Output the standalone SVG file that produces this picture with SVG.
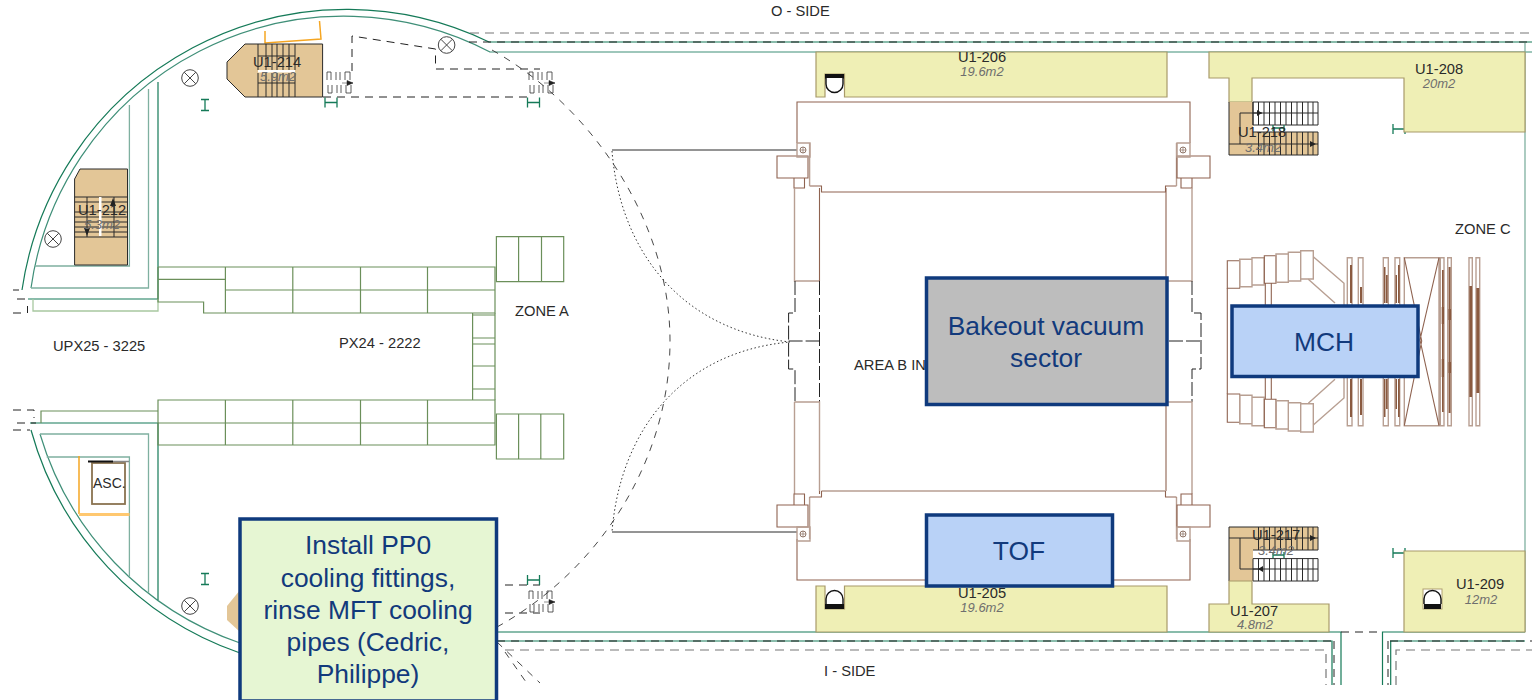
<svg xmlns="http://www.w3.org/2000/svg" width="1532" height="700" viewBox="0 0 1532 700">
<style>
text{font-family:"Liberation Sans",Arial,sans-serif;fill:#2a2a2a}
.lb{font-size:14.700px}
.ar{font-size:13px;font-style:italic;fill:#6e6e6e;text-anchor:middle}
.bx{font-size:26.400px;fill:#123a7c;text-anchor:middle}
.box{stroke:#0f3a7d;stroke-width:3.500}
.wd{fill:none;stroke:#157a58;stroke-width:1.200}
.wl{fill:none;stroke:#7fb0a0;stroke-width:1.300}
.wm{fill:none;stroke:#3f8f78;stroke-width:1.200}
.wp{fill:none;stroke:#a8c8a0;stroke-width:1.300}
.blk{fill:none;stroke:#6b8f5a;stroke-width:1.200}
.br{fill:none;stroke:#8f6350;stroke-width:1.100}
.brl{fill:none;stroke:#b89f92;stroke-width:1.400}
.yel{fill:#efefb5;stroke:#a89a6a;stroke-width:1.200}
.tan{fill:#e3c697}
.tk{fill:none;stroke:#2a2a2a;stroke-width:1}
.ds{fill:none;stroke:#222;stroke-width:1;stroke-dasharray:8 6}
.dc{fill:none;stroke:#222;stroke-width:1;stroke-dasharray:14 3}
.dg{fill:none;stroke:#777;stroke-width:1.200;stroke-dasharray:9 6}
.dn{fill:none;stroke:#333;stroke-width:.9;stroke-dasharray:7 7}
.dt{fill:none;stroke:#333;stroke-width:1;stroke-dasharray:1.500 2.500}
.gm{fill:none;stroke:#157a58;stroke-width:1.300}
.dk{fill:#8a5a40}
.xc{fill:#fff;stroke:#444;stroke-width:1}
.xl{fill:none;stroke:#444;stroke-width:1}
.dr{fill:none;stroke:#333;stroke-width:.8}
</style>
<defs>
<g id="xcirc"><circle class="xc" r="8.300"/><path class="xl" d="M-5.800-5.800L5.800 5.800M-5.800 5.800L5.800-5.800"/></g>
<g id="door"><path class="dr" d="M1 9V1H5V9M10 9V1M14 9V1M19 9V1H24V9M2 14V22H6V14M11 14V22M15 22V14M20 14V22H25V14"/><path d="M16 12H27M27 12l-6-2.500v5z" fill="#222" stroke="#222" stroke-width=".5"/></g>
<g id="ibeam"><path class="gm" d="M-4-5.500H4M-4 5.500H4M0-5.500V5.500"/></g>
<g id="hbeam"><path class="gm" d="M0-5V5M12-5V5M0 0H12"/></g>
<g id="xbox"><path class="brl" d="M0 0H13V14H0z"/><circle cx="6" cy="7" r="3" fill="none" stroke="#7a5a4a" stroke-width=".8"/><path d="M3 7H9M6 4V10" stroke="#7a5a4a" stroke-width=".6"/></g>
</defs>

<g id="walls">
<path class="wd" d="M22 290A328 328 0 0 1 489 42H1532"/>
<path class="wm" d="M31 288A316 316 0 0 1 490 52H1532"/>
<path class="wd" d="M31 430A328 328 0 0 0 240 653"/>
<path class="wm" d="M40 434A316 316 0 0 0 240 643"/>
<path class="wd" d="M158 82V299H28"/>
<path class="wl" d="M148.500 89V288H31"/>
<path class="wl" d="M129.400 105V266H35"/>
<path class="wp" d="M33 299V311H158V299"/>
<path class="wd" d="M30 423H158V600"/>
<path class="wl" d="M40 434H148.500V593"/>
<path class="wl" d="M46.700 457H129.400V577"/>
<path class="blk" d="M41 423V411H158"/>
<path class="wd" d="M497 632H1341V685M1382.500 685V632H1525"/>
<path class="wd" d="M497 641H1332V685M1390.700 685V641H1525"/>
<path class="wl" d="M1525 43V632"/>
<path class="ds" d="M469 42H1532M497 641H1332M1334 641V685M1388 641V685M1390 641H1532M1341 632H1382"/>
<path class="dg" d="M470 33H1532M505 650H1326V685M1396 685V650H1532"/>
<path class="dn" d="M492 50C590 105 670 220 670 341C670 460 600 570 497 627M497 642L540 683M505 652L526 682"/>
<path class="dt" d="M612 151C620 250 680 330 790 342C680 352 620 432 612 532"/>
<path class="tk" d="M612 150H797M612 532H797"/>
<path class="ds" d="M13 290H19M17 299H27M13 313H27M27.500 306V313M13 410H34V418M17 423H36M13 430H30"/>
<path class="ds" d="M352 71V36L435.500 49V69H540M323 97H528M505 585H540M505 613H540"/>
<path fill="none" stroke="#f5a623" stroke-width="1.500" d="M265 31V43L321 39L319.500 21M79 456V514"/>
<path fill="none" stroke="#ffc870" stroke-width="3" d="M79 514.500H129.500"/>
<use href="#xcirc" x="190" y="78"/><use href="#xcirc" x="446.600" y="45"/><use href="#xcirc" x="53" y="239"/><use href="#xcirc" x="190" y="606"/>
<use href="#ibeam" x="205" y="105"/><use href="#ibeam" x="205" y="579"/>
<use href="#hbeam" x="325" y="102.500"/><use href="#hbeam" x="527.500" y="102.500"/><use href="#hbeam" x="527.500" y="580"/>
<use href="#hbeam" x="1393" y="129"/><use href="#hbeam" x="1393" y="553"/>
<use href="#door" x="326" y="71"/><use href="#door" x="528" y="71"/><use href="#door" x="528" y="590"/>
</g>

<g id="blocks">
<path class="blk" d="M158 267H495V313H203.600V302H158V267M158 279.300H225.400M225.400 290H495M225.400 267V313M292.800 267V313M360.500 267V313M427.500 267V313"/>
<path class="blk" d="M496.400 236.700H563.700V281.700H496.400zM518.600 236.700V281.700M541.500 236.700V281.700"/>
<path class="blk" d="M472.600 313V400M495 313V400M472.600 315H495M472.600 338H495M472.600 344H495M472.600 366H495M472.600 389H495"/>
<path class="blk" d="M158 400H495V445H158zM158 423H495M225.400 400V445M292.800 400V445M360.500 400V445M427.500 400V445"/>
<path class="blk" d="M496.400 414H563.700V459H496.400zM518.600 414V459M540.800 414V459"/>
</g>

<g id="central-structure">
<path class="br" d="M797 143V102H1190V143M809.600 186H821.500V192H1165.500V186H1176.500"/>
<path class="brl" d="M809.600 143V186M1176.500 143V186"/>
<path class="br" d="M777 156H808V178H777zM1177 156H1210V178H1177zM794 178H804.500V188H794zM1181 178H1192V188H1181z"/>
<path class="brl" d="M794.500 188V281H819.500M1192 188V281H1166"/>
<path class="br" d="M819.500 188V281M1166 188V281"/>
<path class="dc" d="M795 281V313H788.600V369H795V402M819.500 281V402M788.600 341H819.500M1192 281V313H1201V369H1192V402M1169 341H1201"/>
<path class="brl" d="M794.500 402H819.500V491M794.500 402V494M1166 402H1192V494"/>
<path class="br" d="M1166 402V491"/>
<path class="brl" d="M821.500 491H1165.500M809.600 497V539M1176.500 497V539"/>
<path class="br" d="M819.500 494V491M821.500 491V497H809.600M797 539V580H1190V539M1176.500 497H1165.500V491"/>
<path class="br" d="M777 505H808V527H777zM1177 505H1210V527H1177zM794 494H804.500V505H794zM1181 494H1192V505H1181z"/>
<use href="#xbox" x="797" y="143"/><use href="#xbox" x="1177" y="143"/><use href="#xbox" x="797" y="527"/><use href="#xbox" x="1177" y="527"/>
</g>

<g id="detector">
<path class="br" d="M1227.300 288V394M1265.300 283V305M1271.300 283V305M1265.300 377V399M1271.300 377V399"/>
<path class="br" d="M1227.300 260.700H1239.700V288.300H1227.300zM1227.300 394H1239.700V422.300H1227.300z"/>
<path class="brl" d="M1239.700 259.300H1252V286.700H1239.700zM1239.700 395.300H1252V423.700H1239.700zM1252 257.700H1264.300V285H1252zM1252 397.300H1264.300V425.700H1252z"/>
<path class="br" d="M1264.300 255.700H1276V283.300H1264.300zM1264.300 399.300H1276V427.700H1264.300z"/>
<path class="brl" d="M1276 254H1288.300V282.300H1276zM1276 400.700H1288.300V429H1276zM1288.300 252.300H1300.700V281H1288.300zM1288.300 402.700H1300.700V431H1288.300zM1300.700 250.700H1313.300V279H1300.700zM1300.700 403.700H1313.300V432H1300.700z"/>
<path class="brl" d="M1313.300 256.700L1344 283.300V398L1313.300 425M1308.300 279.300L1335 303M1335 379.300L1308.300 403.300"/>
<path class="brl" d="M1347.300 257.700H1352V425.700H1347.300zM1358.300 257.700H1363V425.700H1358.300zM1383.300 257.700H1388.300V425.700H1383.300zM1395 257.700H1399.700V425.700H1395zM1404.300 257.700H1439V425.700H1404.300zM1440.300 257.700H1444V425.700H1440.300zM1447.700 257.700H1451.300V425.700H1447.700zM1469 257.700H1472.300V425.700H1469zM1476 257.700H1479.700V425.700H1476z"/>
<path class="br" d="M1404.300 257.700L1421.700 341L1404.300 425.700M1439 257.700L1420 340L1439 425.700"/>
<path class="dk" d="M1350 265h2v38h-2zM1350 379h2v38h-2zM1360 287h2v16h-2zM1360 379h2v36h-2zM1384 267h1.500v36H1384zM1384 379h1.500v38H1384zM1386 275h1.700v28H1386zM1386 379h1.700v30H1386zM1398 265h1.700v38H1398zM1398 379h1.700v38H1398zM1395.500 275h1.500v28h-1.500zM1395.500 379h1.500v30h-1.500zM1442 270h1.700v142H1442zM1441.700 307h2.300v17h-2.300zM1441.700 359h2.300v18h-2.300zM1448.600 267h2v146h-2zM1448.300 309h2.700v11h-2.700zM1448.300 362h2.700v11h-2.700zM1469.300 286h2.700v111h-2.700zM1476.300 288h3v105h-3z"/>
</g>

<g id="room-U1-206">
<path class="yel" d="M816 52H1167V97H844.500V74H825V97H816z"/>
<path d="M825 74H844V78.500H825z" fill="#111"/><path d="M826 78V84A8.500 8.500 0 0 0 843 84V78" fill="#fff" stroke="#111" stroke-width="1.400"/>
<text class="lb" x="982" y="62" text-anchor="middle">U1-206</text><text class="ar" x="982" y="76">19.6m2</text>
</g>
<g id="room-U1-205">
<path class="yel" d="M816 632V586H825V609H844.500V586H1167V632z"/>
<path d="M825 604H844V609H825z" fill="#111"/><path d="M826 604V599A8.500 8.500 0 0 1 843 599V604" fill="#fff" stroke="#111" stroke-width="1.400"/>
<text class="lb" x="982" y="598" text-anchor="middle">U1-205</text><text class="ar" x="982" y="612">19.6m2</text>
</g>
<g id="room-U1-208">
<path class="yel" d="M1209 52H1525V132H1404V78H1252V102H1229V78H1209z"/>
<text class="lb" x="1415" y="74">U1-208</text><text class="ar" x="1439" y="88">20m2</text>
</g>
<g id="room-U1-218">
<path class="tan" d="M1229 102H1253V132H1318V155H1229z"/>
<path class="tk" d="M1253 102H1318V125H1253zM1229 155V102M1229 155H1318V132H1253M1253 113H1318M1229 144H1318M1240 144V113H1262M1253 102V125M1258.500 102V125M1264 102V125M1269.500 102V125M1275 102V125M1280.500 102V125M1286 102V125M1291.500 102V125M1297 102V125M1302.500 102V125M1308 102V125M1313 102V125M1258.500 132V155M1264 132V155M1269.500 132V155M1275 132V155M1280.500 132V155M1286 132V155M1291.500 132V155M1297 132V155M1302.500 132V155M1308 132V155M1313 132V155"/>
<path d="M1262 113l-5-3v6zM1316 144l-6-3v6z" fill="#222"/>
<path class="gm" d="M1273 128H1284M1273 125V131M1284 125V131"/>
<text class="lb" x="1238" y="137">U1-218</text><text class="ar" x="1263" y="152">3.4m2</text>
</g>
<g id="room-U1-217">
<path class="tan" d="M1229 527H1318V550H1253V581H1229z"/>
<path class="tk" d="M1253 558.600H1318V581H1253zM1229 581V527H1318V550H1253M1253 569H1318M1229 538H1318M1240 538V569H1262M1258.500 558.600V581M1264 558.600V581M1269.500 558.600V581M1275 558.600V581M1280.500 558.600V581M1286 558.600V581M1291.500 558.600V581M1297 558.600V581M1302.500 558.600V581M1308 558.600V581M1313 558.600V581M1258.500 527V550M1264 527V550M1269.500 527V550M1275 527V550M1280.500 527V550M1286 527V550M1291.500 527V550M1297 527V550M1302.500 527V550M1308 527V550M1313 527V550"/>
<path d="M1258 569l5-3v6zM1316 538l-6-3v6z" fill="#222"/>
<path class="gm" d="M1273 555H1284M1273 552V558M1284 552V558"/>
<text class="lb" x="1252" y="540">U1-217</text><text class="ar" x="1276" y="555">3.4m2</text>
</g>
<g id="room-U1-207">
<path class="yel" d="M1229 581H1252V604H1329V632H1209V604H1229z"/>
<text class="lb" x="1230" y="616">U1-207</text><text class="ar" x="1255" y="629">4.8m2</text>
</g>
<g id="room-U1-209">
<path class="yel" d="M1404 551H1525V632H1404z"/>
<rect x="1423" y="589" width="19" height="20" fill="#fff" stroke="#b0a070"/>
<path d="M1424 604H1441V609H1424z" fill="#111"/><path d="M1424 604V599A8.500 8.500 0 0 1 1441 599V604" fill="#fff" stroke="#111" stroke-width="1.400"/>
<text class="lb" x="1456" y="589">U1-209</text><text class="ar" x="1481" y="604">12m2</text>
</g>
<g id="room-U1-214">
<path class="tan" d="M227 62L245 44H322.600V97H245L227 79z" stroke="#2a2a2a"/>
<path d="M258 70H295V72.500H258z" fill="#fff"/>
<path class="tk" d="M258 56H295M258 83H295M258 44V70M266 44V70M272 44V70M277 44V70M283 44V70M289 44V70M295 44V70M258 73V97M266 73V97M272 73V97M277 73V97M283 73V97M289 73V97M295 73V97"/>
<text class="lb" x="253" y="67">U1-214</text><text class="ar" x="278" y="81">5.9m2</text>
</g>
<g id="room-U1-212">
<path class="tan" d="M74.600 179L80 169H127.500V265H74.600z" stroke="#2a2a2a"/>
<path class="tk" d="M74.600 197H127.500M74.600 202H127.500M74.600 212H127.500M74.600 217H127.500M74.600 222H127.500M74.600 227H127.500M74.600 232H127.500M74.600 237H127.500M87 197V237M114 197V237"/>
<path d="M99 197H101.500V236H99z" fill="#fff"/>
<path d="M113 198l-3 8h6zM87 236l-3-8h6z" fill="#222"/>
<text class="lb" x="78" y="215">U1-212</text><text class="ar" x="102" y="229">5.3m2</text>
</g>
<g id="room-U1-214-lower"><path class="tan" d="M240 590L227 606V620L240 632z"/></g>
<g id="asc">
<rect x="92" y="463" width="33" height="41" fill="#fff" stroke="#8a7350" stroke-width="1.800"/>
<path d="M88 461.500H113" stroke="#111" stroke-width="2"/><path d="M113 461.500H129" stroke="#888" stroke-width="1.500"/>
<text x="93" y="488" style="font-size:14px">ASC.</text>
</g>

<g id="labels">
<text class="lb" x="771" y="16">O - SIDE</text>
<text class="lb" x="824" y="676">I - SIDE</text>
<text class="lb" x="515" y="316">ZONE A</text>
<text class="lb" x="339" y="348">PX24 - 2222</text>
<text class="lb" x="53" y="351">UPX25 - 3225</text>
<text class="lb" x="854" y="370">AREA B IN</text>
<text class="lb" x="1455" y="234">ZONE C</text>
</g>

<g id="box-bakeout">
<rect class="box" x="926.500" y="278" width="240.500" height="126.500" fill="#bdbdbd"/>
<text class="bx" x="1046" y="335">Bakeout vacuum</text><text class="bx" x="1046" y="367">sector</text>
</g>
<g id="box-mch">
<rect class="box" x="1232" y="306" width="186" height="70.500" fill="#b9d2f7"/>
<text class="bx" x="1324" y="351">MCH</text>
</g>
<g id="box-tof">
<rect class="box" x="926.500" y="515" width="186" height="71" fill="#b9d2f7"/>
<text class="bx" x="1019" y="560">TOF</text>
</g>
<g id="box-install">
<rect class="box" x="240" y="519" width="256.500" height="182" fill="#e6f6d3"/>
<text class="bx" x="368" y="554">Install PP0</text>
<text class="bx" x="368" y="586.500">cooling fittings,</text>
<text class="bx" x="368" y="618.500">rinse MFT cooling</text>
<text class="bx" x="368" y="651">pipes (Cedric,</text>
<text class="bx" x="368" y="683">Philippe)</text>
</g>
</svg>
